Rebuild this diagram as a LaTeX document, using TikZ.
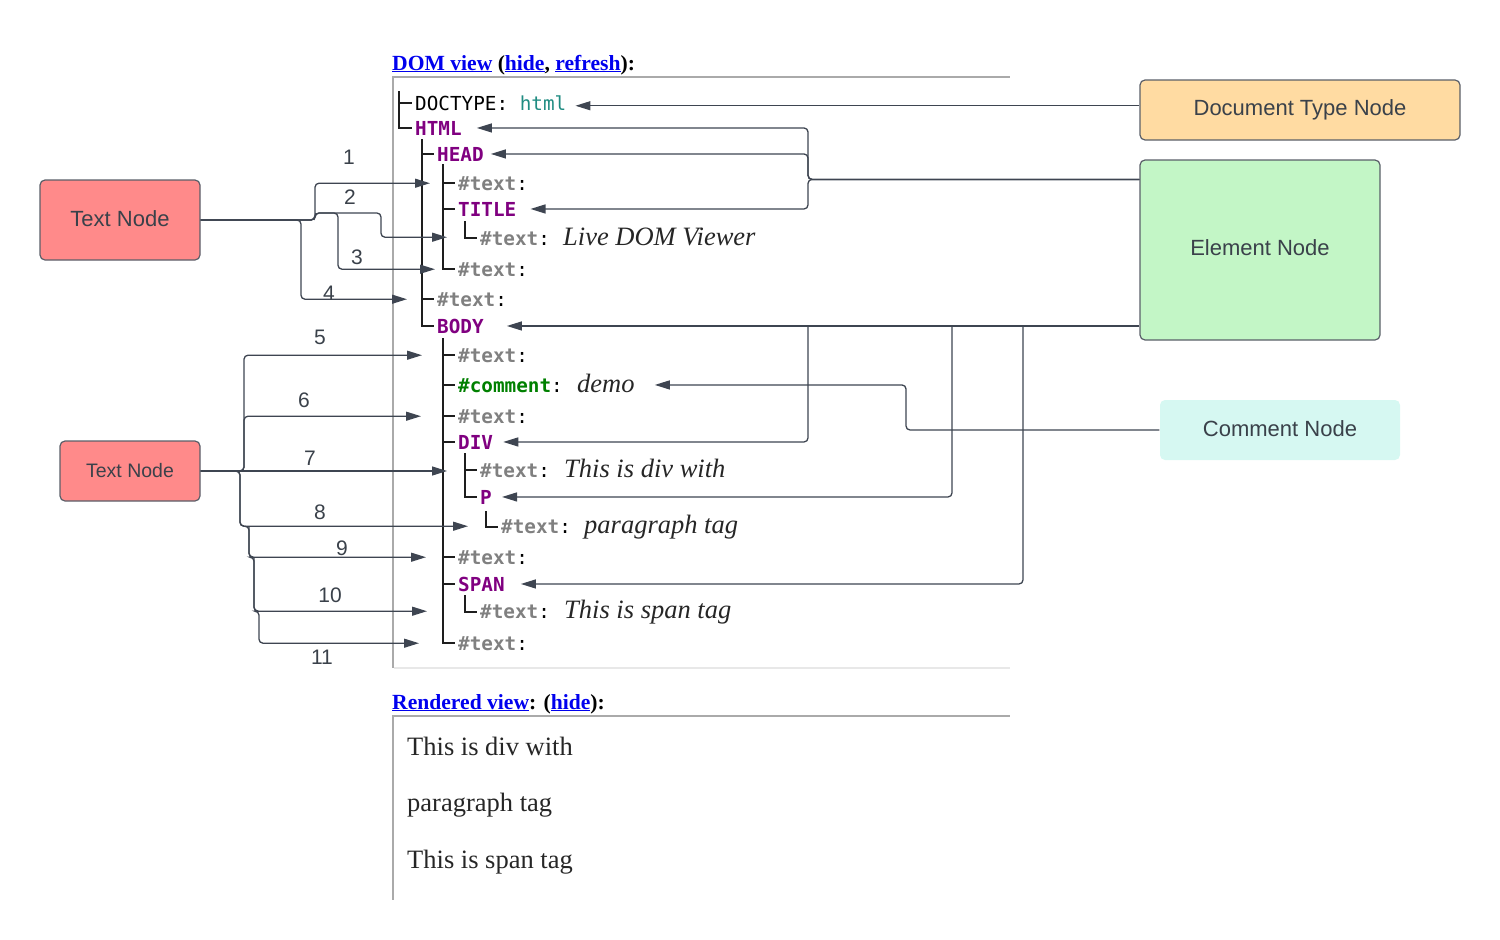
\documentclass[tikz,border=0pt]{standalone}
\usepackage{fontspec}
\setmainfont{Liberation Serif}
\newfontfamily\sansf{Liberation Sans}
\newfontfamily\monof{DejaVu Sans Mono}
\usetikzlibrary{arrows.meta}
\definecolor{lnk}{RGB}{0,0,238}
\definecolor{connc}{RGB}{62,69,81}
\definecolor{treec}{RGB}{30,30,30}
\definecolor{tagc}{RGB}{128,0,128}
\definecolor{txgrey}{RGB}{128,128,128}
\definecolor{cmtc}{RGB}{0,128,0}
\definecolor{htmlc}{RGB}{32,140,130}
\definecolor{boxline}{RGB}{90,95,105}
\definecolor{boxtext}{RGB}{58,65,74}
\definecolor{redbox}{RGB}{255,138,138}
\definecolor{orbox}{RGB}{255,219,162}
\definecolor{grbox}{RGB}{195,246,198}
\definecolor{cybox}{RGB}{214,248,242}
\definecolor{panelc}{RGB}{170,170,170}
\definecolor{panelL}{RGB}{232,232,232}
\newcommand\lk[1]{\textcolor{lnk}{\underline{#1}}}
\newcommand\MF{\monof\fontsize{19.3}{22}\selectfont}
\newcommand\tx{\#text\textcolor{black}{\mdseries:}}
\tikzset{
  hdr/.style={anchor=base west, inner sep=0pt, font=\fontsize{21.6}{25}\selectfont\bfseries},
  mtxt/.style={anchor=base west, inner sep=0pt, font=\MF},
  etag/.style={mtxt, font=\MF\bfseries, text=tagc},
  ttag/.style={mtxt, font=\MF\bfseries, text=txgrey},
  ctag/.style={mtxt, font=\MF\bfseries, text=cmtc},
  itx/.style={anchor=base west, inner sep=0pt, font=\fontsize{26.5}{30}\selectfont\itshape, text=black!85},
  rtx/.style={anchor=base west, inner sep=0pt, font=\fontsize{26.5}{30}\selectfont, text=black!85},
  box/.style={rounded corners=5pt, draw=boxline, line width=1.2pt, text=boxtext, font=\sansf\fontsize{22}{26}\selectfont},
  lbl/.style={inner sep=0pt, text=boxtext, font=\sansf\fontsize{21}{25}\selectfont},
  conn/.style={draw=connc, line width=1.3pt, -{Triangle[length=15pt,width=9pt]}},
  rc/.style={rounded corners=4pt},
  treeline/.style={draw=treec, line width=1.7pt},
  panel/.style={draw=panelc, line width=1.5pt},
  panelLt/.style={draw=panelL, line width=1.5pt}
}
\begin{document}
\begin{tikzpicture}[x=1pt,y=-1pt]
\useasboundingbox (0,0) rectangle (1500,940);
% panels
\draw[panel] (392,77) -- (1010,77);
\draw[panel] (393,77) -- (393,668);
\draw[panelLt] (394,668) -- (1010,668);
\draw[panel] (392,716) -- (1010,716);
\draw[panel] (393,716) -- (393,900);
% headers
\node[hdr] (domhdr) at (392,70) {\lk{DOM view} (\lk{hide}, \lk{refresh}):};
\node[hdr] (rhdr) at (392,709) {\lk{Rendered view}: (\lk{hide}):};
% rendered
\node[rtx] (r1) at (407,755) {This is div with};
\node[rtx] (r2) at (407,811) {paragraph tag};
\node[rtx] (r3) at (407,868) {This is span tag};
% tree text
\node[mtxt] (doctype) at (415,110) {DOCTYPE: \textcolor{htmlc}{html}};
\node[etag] (html) at (415,135) {HTML};
\node[etag] (head) at (437,161) {HEAD};
\node[ttag] (t1) at (458,190) {\tx};
\node[etag] (title) at (458,216) {TITLE};
\node[ttag] (t2) at (480,245) {\tx};
\node[itx] (i2) at (563,245) {Live DOM Viewer};
\node[ttag] (t3) at (458,276) {\tx};
\node[ttag] (t4) at (437,306) {\tx};
\node[etag] (body) at (437,333) {BODY};
\node[ttag] (t5) at (458,362) {\tx};
\node[ctag] (cmt) at (458,392) {\#comment\textcolor{black}{\mdseries:}};
\node[itx] (demo) at (577,392) {demo};
\node[ttag] (t6) at (458,423) {\tx};
\node[etag] (div) at (458,449) {DIV};
\node[ttag] (t7) at (480,477) {\tx};
\node[itx] (i7) at (564,477) {This is div with};
\node[etag] (p) at (480,504) {P};
\node[ttag] (t8) at (501,533) {\tx};
\node[itx] (i8) at (584,533) {paragraph tag};
\node[ttag] (t9) at (458,564) {\tx};
\node[etag] (span) at (458,591) {SPAN};
\node[ttag] (t10) at (480,618) {\tx};
\node[itx] (i10) at (564,618) {This is span tag};
\node[ttag] (t11) at (458,650) {\tx};
% tree lines
\draw[treeline] (399,91) -- (399,128) -- (412,128);
\draw[treeline] (399,103) -- (412,103);
\draw[treeline] (422,139) -- (422,326) -- (434,326);
\draw[treeline] (422,154) -- (434,154);
\draw[treeline] (422,299) -- (434,299);
\draw[treeline] (443,164) -- (443,269) -- (455,269);
\draw[treeline] (443,183) -- (455,183);
\draw[treeline] (443,209) -- (455,209);
\draw[treeline] (465,221) -- (465,238) -- (477,238);
\draw[treeline] (443,338) -- (443,643) -- (455,643);
\foreach \yy in {355,385,416,442,557,584} \draw[treeline] (443,\yy) -- (455,\yy);
\draw[treeline] (465,453) -- (465,497) -- (477,497);
\draw[treeline] (465,470) -- (477,470);
\draw[treeline] (486,511) -- (486,527) -- (498,527);
\draw[treeline] (465,595) -- (465,612) -- (477,612);
% boxes
\node[box, fill=redbox, minimum width=160pt, minimum height=80pt] (tn1) at (120,220) {\raisebox{2pt}{Text Node}};
\node[box, fill=redbox, minimum width=140pt, minimum height=60pt, font=\sansf\fontsize{19.5}{23}\selectfont] (tn2) at (130,471) {Text Node};
\node[box, fill=orbox, minimum width=320pt, minimum height=60pt] (dt) at (1300,110) {\raisebox{1pt}{Document Type Node}};
\node[box, fill=grbox, minimum width=240pt, minimum height=180pt] (el) at (1260,250) {\raisebox{5pt}{Element Node}};
\node[box, draw=none, fill=cybox, minimum width=240pt, minimum height=60pt] (cm) at (1280,430) {\raisebox{2pt}{Comment Node}};
% arrow tip coordinates
\coordinate (a1) at ([xshift=-28pt]t1.west);
\coordinate (a2) at ([xshift=-33pt,yshift=1pt]t2.west);
\coordinate (a3) at ([xshift=-23pt]t3.west);
\coordinate (a4) at ([xshift=-30pt]t4.west);
\coordinate (a5) at ([xshift=-36pt]t5.west);
\coordinate (a6) at ([xshift=-37pt]t6.west);
\coordinate (a7) at ([xshift=-33pt]t7.west);
\coordinate (a8) at ([xshift=-33pt]t8.west);
\coordinate (a9) at ([xshift=-32pt]t9.west);
\coordinate (a10) at ([xshift=-53pt]t10.west);
\coordinate (a11) at ([xshift=-39pt]t11.west);
\coordinate (rDT) at ([xshift=9pt,yshift=-3pt]doctype.east);
\coordinate (rHTML) at ([xshift=15pt]html.east);
\coordinate (rHEAD) at ([xshift=7pt]head.east);
\coordinate (rTITLE) at ([xshift=14pt]title.east);
\coordinate (rBODY) at ([xshift=23pt]body.east);
\coordinate (rDEMO) at ([xshift=20pt,yshift=-2pt]demo.east);
\coordinate (rDIV) at ([xshift=10pt]div.east);
\coordinate (rP) at ([xshift=10pt]p.east);
\coordinate (rSPAN) at ([xshift=16pt]span.east);
\coordinate (elT) at ([yshift=-20pt]el.west |- el.north);
% right connectors
\draw[conn] (dt.west |- rDT) -- (rDT);
\draw[conn,rc] (elT) -- (808,0 |- elT) |- (rHTML);
\draw[conn,rc] (elT) -- (808,0 |- elT) |- (rHEAD);
\draw[conn,rc] (elT) -- (808,0 |- elT) |- (rTITLE);
\draw[conn] (el.west |- rBODY) -- (rBODY);
\draw[conn,rc] (808,0 |- rBODY) |- (rDIV);
\draw[conn,rc] (952,0 |- rBODY) |- (rP);
\draw[conn,rc] (1023,0 |- rBODY) |- (rSPAN);
\draw[conn,rc] (cm.west) -- (906,0 |- cm.west) |- (rDEMO);
% left connectors, upper text node
\draw[conn,rc] (tn1.east) -- (301,0 |- tn1.east) |- (a4);
\draw[conn,rc] (tn1.east) -- (315,0 |- tn1.east) |- (a1);
\draw[conn,rc] (tn1.east) -- (315,0 |- tn1.east) -- (315,213) -- (381,213) |- (a2);
\draw[conn,rc] (tn1.east) -- (315,0 |- tn1.east) -- (315,213) -- (338,213) |- (a3);
% left connectors, lower text node
\draw[conn] (tn2.east) -- (tn2.east -| a7);
\draw[conn,rc] (tn2.east) -- (244,0 |- tn2.east) |- (a5);
\draw[conn,rc] (tn2.east) -- (244,0 |- tn2.east) |- (a6);
\draw[conn,rc] (tn2.east) -- (240,0 |- tn2.east) |- (a8);
\draw[conn,rc] (tn2.east) -- (240,0 |- tn2.east) -- (240,0 |- a8) -- (249,0 |- a8) |- (a9);
\draw[conn,rc] (249,0 |- a8) -- (249,0 |- a9) -- (254,0 |- a9) |- (a10);
\draw[conn,rc] (254,0 |- a9) -- (254,0 |- a10) -- (259,0 |- a10) |- (a11);
% labels
\node[lbl] (l1) at (349,157) {1};
\node[lbl] (l2) at (350,197) {2};
\node[lbl] (l3) at (357,257) {3};
\node[lbl] (l4) at (329,293) {4};
\node[lbl] (l5) at (320,337) {5};
\node[lbl] (l6) at (304,400) {6};
\node[lbl] (l7) at (310,458) {7};
\node[lbl] (l8) at (320,512) {8};
\node[lbl] (l9) at (342,548) {9};
\node[lbl] (l10) at (330,595) {10};
\node[lbl] (l11) at (322,657) {11};
\end{tikzpicture}
\end{document}
